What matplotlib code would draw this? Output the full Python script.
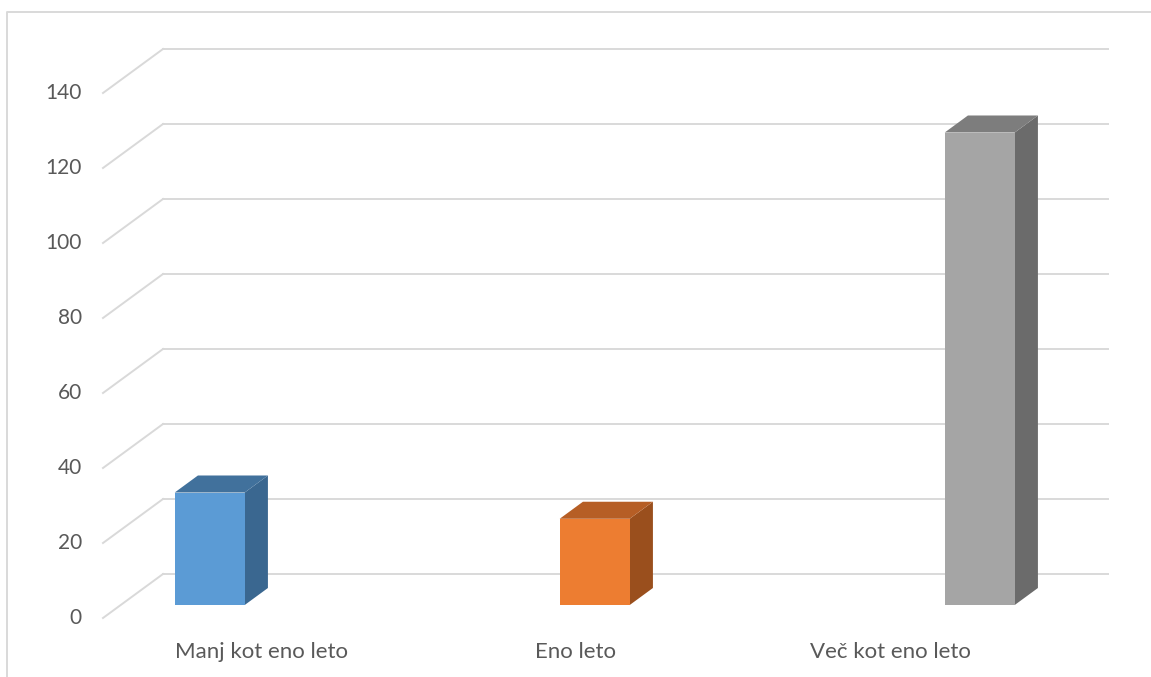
import numpy as np
import matplotlib.pyplot as plt
from matplotlib.patches import Polygon

categories = ["Manj kot eno leto", "Eno leto", "Več kot eno leto"]
values = [30, 23, 126]
ticks = [0, 20, 40, 60, 80, 100, 120, 140]
fronts = ["#5B9BD5", "#ED7D31", "#A5A5A5"]
tops = ["#41719C", "#B65E25", "#7D7D7D"]
sides = ["#3A6790", "#9A4F1D", "#6B6B6B"]

W, H = 1151, 677
PX = 3.75            # pixels per value unit
Y0 = 103             # pixel height of back-wall zero
DX = -60             # oblique shift of the front plane (px)
DY = -44 / PX        # ... and in value units
F_FRONT, F_BACK = 0.705, 0.318

fig = plt.figure(figsize=(W / 100, H / 100), dpi=100)
ax = fig.add_axes([0, 0, 1, 1])
ax.set_xlim(0, W)
ax.set_ylim(-Y0 / PX, (H - Y0) / PX)
ax.axis("off")

grid = "#D9D9D9"
for t in ticks:
    ax.plot([163, 1108], [t, t], color=grid, lw=1.4, zorder=1)
    ax.plot([163, 163 + DX], [t, t + DY], color=grid, lw=1.4, zorder=1)
    ax.text(82, t + DY, str(t), ha="right", va="center", fontsize=15,
            color="#595959", family="Lato")

for i, v in enumerate(values):
    left = 217 + 385 * i
    w = 70
    fx, fy = left + DX * F_FRONT, DY * F_FRONT
    bx, by = left + DX * F_BACK, DY * F_BACK
    front = [(fx, fy), (fx + w, fy), (fx + w, fy + v), (fx, fy + v)]
    top = [(fx, fy + v), (fx + w, fy + v), (bx + w, by + v), (bx, by + v)]
    side = [(fx + w, fy), (bx + w, by), (bx + w, by + v), (fx + w, fy + v)]
    ax.add_patch(Polygon(side, closed=True, fc=sides[i], ec="none", zorder=3))
    ax.add_patch(Polygon(top, closed=True, fc=tops[i], ec="none", zorder=3))
    ax.add_patch(Polygon(front, closed=True, fc=fronts[i], ec="none", zorder=4))

for i, c in enumerate(categories):
    ax.text(262 + 314 * i, (H - 652 - Y0) / PX, c, ha="center", va="center",
            fontsize=16, color="#595959", family="Lato")

# chart border
ax.plot([7, 7, W], [-Y0 / PX, (H - Y0 - 12) / PX, (H - Y0 - 12) / PX],
        color=grid, lw=1.4, zorder=0)

fig.savefig("out.png", dpi=100)
